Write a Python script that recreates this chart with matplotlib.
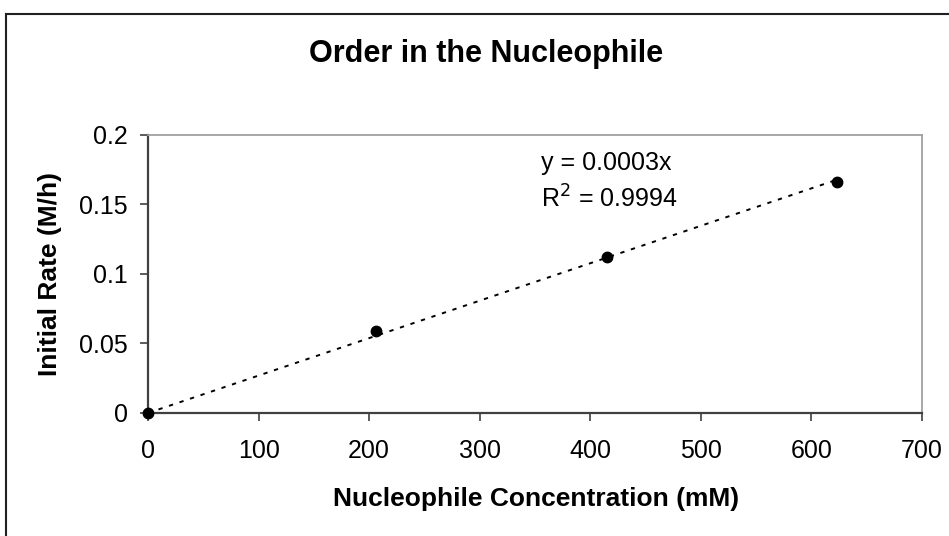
import numpy as np
import matplotlib.pyplot as plt
from matplotlib.lines import Line2D

plt.rcParams['font.family'] = ['Liberation Sans', 'DejaVu Sans']

# data
conc = [0, 206.5, 415, 623.5]          # mM
rate = [0, 0.0589, 0.1122, 0.1663]     # M/h
x_ticks = [0, 100, 200, 300, 400, 500, 600, 700]
y_ticks = [0, 0.05, 0.1, 0.15, 0.2]
y_labels = ['0', '0.05', '0.1', '0.15', '0.2']

W, H = 949, 536
fig = plt.figure(figsize=(W / 100, H / 100), dpi=100)
ax = fig.add_axes([148 / W, 1 - 413 / H, (922 - 148) / W, (413 - 134.7) / H])

# linear trendline through origin
x = np.array(conc)
y = np.array(rate)
slope = (x * y).sum() / (x * x).sum()
xf = np.array([0, x.max()])
ax.plot(xf, slope * xf, color='black', lw=1.4, linestyle=(0, (2.2, 3.5)), zorder=2)

ax.plot(conc, rate, 'o', color='black', markersize=7.5, zorder=3, clip_on=False)

ax.set_xlim(0, 700)
ax.set_ylim(0, 0.2)
ax.set_xticks(x_ticks)
ax.set_yticks(y_ticks)
ax.set_yticklabels(y_labels)
ax.tick_params(axis='both', direction='out', length=5.5, width=1.2, color='#404040', labelsize=18)
ax.tick_params(axis='x', pad=13)
ax.tick_params(axis='y', pad=9)

for s in ['left', 'bottom']:
    ax.spines[s].set_color('#404040')
    ax.spines[s].set_linewidth(1.6)
for s in ['top', 'right']:
    ax.spines[s].set_color('#a0a0a0')
    ax.spines[s].set_linewidth(1.3)

ax.text(355, 0.1797, 'y = 0.0003x', fontsize=18, va='center', ha='left')
ax.text(355, 0.1538, 'R$^2$ = 0.9994', fontsize=18, va='center', ha='left')

fig.text(486 / W, 1 - 62 / H, 'Order in the Nucleophile', fontsize=22, fontweight='bold',
         ha='center', va='baseline')
fig.text(536 / W, 1 - 506 / H, 'Nucleophile Concentration (mM)', fontsize=19, fontweight='bold',
         ha='center', va='baseline')
fig.text(50 / W, 1 - 274 / H, 'Initial Rate (M/h)', fontsize=19, fontweight='bold',
         ha='center', va='center', rotation=90)

# outer chart border (left and top visible)
fig.add_artist(Line2D([6 / W, 6 / W], [0, 1 - 13.5 / H], transform=fig.transFigure,
                      color='#202020', lw=1.5))
fig.add_artist(Line2D([6 / W, 948 / W], [1 - 13.5 / H, 1 - 13.5 / H], transform=fig.transFigure,
                      color='#202020', lw=1.5))

fig.savefig('out.png', dpi=100)
